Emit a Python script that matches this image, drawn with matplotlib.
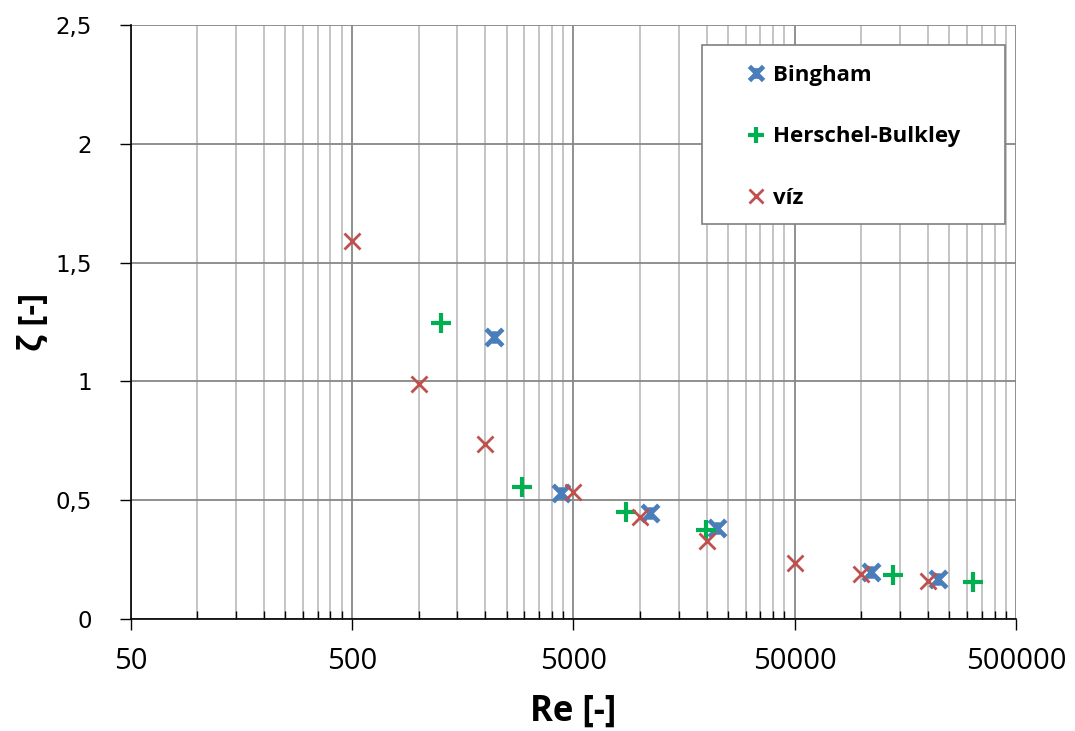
import numpy as np
import matplotlib
matplotlib.use('Agg')
import matplotlib.pyplot as plt
from matplotlib.path import Path
from matplotlib.patches import Rectangle
from matplotlib.ticker import FixedLocator, FixedFormatter, NullFormatter

# Bingham
re_bingham = [2200, 4400, 11100, 22300, 110600, 221000]
zeta_bingham = [1.186, 0.529, 0.445, 0.384, 0.199, 0.167]
# Herschel-Bulkley
re_hb = [1265, 2920, 8670, 19860, 139000, 320000]
zeta_hb = [1.245, 0.554, 0.449, 0.375, 0.185, 0.154]
# voda
re_viz = [500, 1000, 2000, 5000, 10000, 20000, 50000, 100000, 200000]
zeta_viz = [1.592, 0.99, 0.736, 0.533, 0.431, 0.328, 0.234, 0.188, 0.161]

x_ticks = [50, 500, 5000, 50000, 500000]
y_ticks = [0, 0.5, 1, 1.5, 2, 2.5]
y_labels = ['0', '0,5', '1', '1,5', '2', '2,5']

W, H = 1075, 731

# hvezdicka jako v Excelu: X + svisla carka
star = Path([(-1, -1), (1, 1), (-1, 1), (1, -1), (0, -0.75), (0, 0.75)],
            [Path.MOVETO, Path.LINETO, Path.MOVETO, Path.LINETO, Path.MOVETO, Path.LINETO])

fig = plt.figure(figsize=(W/100, H/100), dpi=100)
ax = fig.add_axes([130.5/W, 112/H, (1016-130.5)/W, (619-25)/H])

ax.plot(re_bingham, zeta_bingham, linestyle='none', marker=star, markersize=12,
        markeredgewidth=3.4, color='#4A7EBB', label='Bingham', zorder=3)
ax.plot(re_hb, zeta_hb, linestyle='none', marker='+', markersize=14,
        markeredgewidth=3, color='#00B050', label='Herschel-Bulkley', zorder=4)
ax.plot(re_viz, zeta_viz, linestyle='none', marker='x', markersize=12,
        markeredgewidth=2, color='#C0504D', label='víz', zorder=5)

ax.set_xscale('log')
ax.set_xlim(50, 500000)
ax.set_ylim(0, 2.5)

minor = [50*k*10**d for d in range(4) for k in range(2, 10)]
ax.xaxis.set_major_locator(FixedLocator(x_ticks))
ax.xaxis.set_major_formatter(FixedFormatter([str(v) for v in x_ticks]))
ax.xaxis.set_minor_locator(FixedLocator(minor))
ax.xaxis.set_minor_formatter(NullFormatter())
ax.yaxis.set_major_locator(FixedLocator(y_ticks))
ax.yaxis.set_major_formatter(FixedFormatter(y_labels))

ax.grid(True, which='major', axis='both', color='#878787', linewidth=1.3)
ax.grid(True, which='minor', axis='x', color='#BFBFBF', linewidth=1.3)
ax.set_axisbelow(True)

for s in ['top', 'right']:
    ax.spines[s].set_visible(False)
for s in ['left', 'bottom']:
    ax.spines[s].set_color('black')
    ax.spines[s].set_linewidth(1.2)

ax.tick_params(axis='x', which='major', direction='out', length=8, width=1,
               pad=12, labelsize=21)
ax.tick_params(axis='x', which='minor', direction='in', length=6, width=1)
ax.tick_params(axis='y', which='major', direction='out', length=8, width=1,
               pad=20, labelsize=16.5)
for t in ax.get_xticklabels():
    t.set_fontfamily('Open Sans')
for t in ax.get_yticklabels():
    t.set_fontfamily('DejaVu Sans')

ax.set_xlabel('Re [-]', fontsize=25, fontweight='bold', family='Open Sans', labelpad=13)
ax.set_ylabel('ζ [-]', fontsize=24, fontweight='bold', family='Open Sans', labelpad=4)

# ramecek legendy
box = Rectangle((702/W, (H-224)/H), (1005-702)/W, (224-45)/H, transform=fig.transFigure,
                facecolor='white', edgecolor='#7F7F7F', linewidth=1.2, zorder=9,
                clip_on=False)
ax.add_patch(box)

leg = ax.legend(loc='upper left', bbox_to_anchor=(745/W, (H-65)/H),
                bbox_transform=fig.transFigure, frameon=False,
                prop={'family': 'Open Sans', 'weight': 'bold', 'size': 16},
                labelspacing=1.82, borderpad=0, handlelength=1.0,
                handletextpad=0.25, borderaxespad=0, markerscale=0.85)
leg.set_zorder(10)

fig.savefig('out.png', dpi=100)
